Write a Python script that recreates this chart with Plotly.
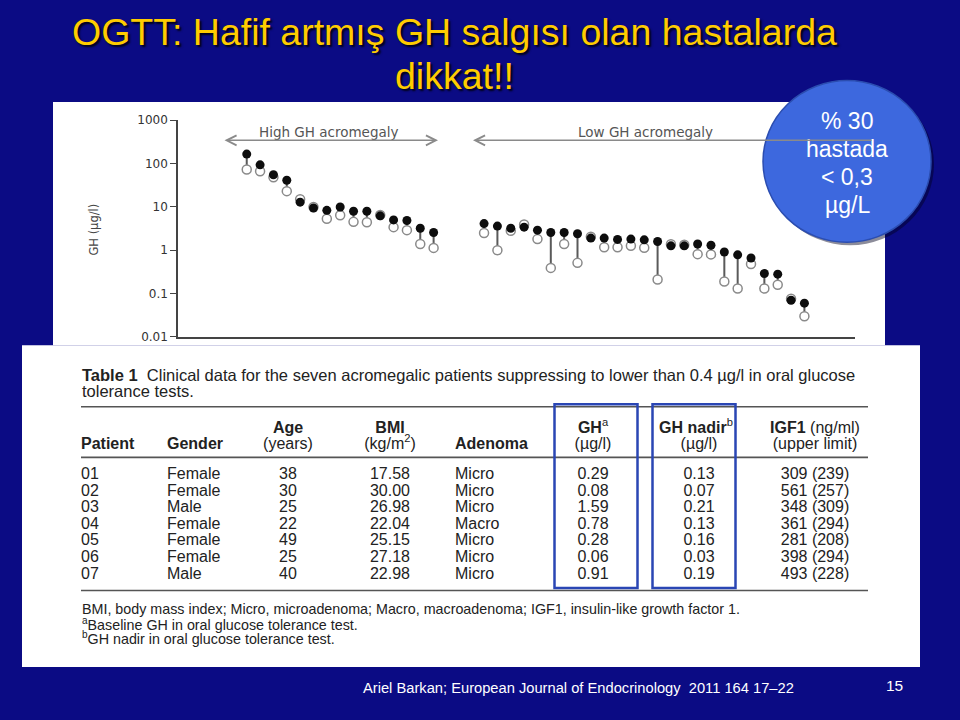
import plotly.graph_objects as go

# ---------------- data ----------------
# High GH acromegaly: baseline GH (filled) and nadir GH in OGTT (open), µg/l
high_gh_baseline = [165, 93, 55, 41, 12.8, 9.4, 8.3, 9.9, 7.9, 7.9, 6.2, 5.0, 4.85, 3.2, 2.55]
high_gh_nadir = [73, 66, 48, 23, 15, 9.9, 5.3, 6.4, 4.5, 4.4, 6.5, 3.4, 2.9, 1.39, 1.13]
# Low GH acromegaly
low_gh_baseline = [4.1, 3.6, 3.2, 3.4, 2.9, 2.55, 2.55, 2.4, 1.9, 1.9, 1.77, 1.8, 1.73,
                   1.59, 1.26, 1.26, 1.39, 1.3, 0.91, 0.78, 0.66, 0.29, 0.28, 0.070, 0.06]
low_gh_nadir = [2.5, 1.0, 2.8, 3.9, 1.8, 0.39, 1.39, 0.51, 2.04, 1.17, 1.17, 1.26, 1.14,
                0.21, 1.37, 1.33, 0.81, 0.80, 0.19, 0.13, 0.48, 0.13, 0.16, 0.076, 0.03]
y_tick_vals = [0.01, 0.1, 1, 10, 100, 1000]
y_tick_text = ["0.01", "0.1", "1", "10", "100", "1000"]
threshold_gh = 1

# Table 1
patients = ["01", "02", "03", "04", "05", "06", "07"]
genders = ["Female", "Female", "Male", "Female", "Female", "Female", "Male"]
ages = [38, 30, 25, 22, 49, 25, 40]
bmis = [17.58, 30.00, 26.98, 22.04, 25.15, 27.18, 22.98]
adenomas = ["Micro", "Micro", "Micro", "Macro", "Micro", "Micro", "Micro"]
gh_baseline_tbl = [0.29, 0.08, 1.59, 0.78, 0.28, 0.06, 0.91]
gh_nadir_tbl = [0.13, 0.07, 0.21, 0.13, 0.16, 0.03, 0.19]
igf1 = [309, 561, 348, 361, 281, 398, 493]
igf1_upper = [239, 257, 309, 294, 208, 294, 228]

# ---------------- layout helpers ----------------
W, H = 960, 720
BG = "#0b0b84"
def px(x):
    return x / W
def py(y):
    return 1 - y / H

GAP = 2.78  # gap between the two groups (in patient slots)
x_high = [i + 1 for i in range(len(high_gh_baseline))]
x_low = [len(high_gh_baseline) + i + 1 + GAP for i in range(len(low_gh_baseline))]
xs = x_high + x_low
base = high_gh_baseline + low_gh_baseline
nadir = high_gh_nadir + low_gh_nadir

stem_x, stem_y = [], []
for x, b, n in zip(xs, base, nadir):
    stem_x += [x, x, None]
    stem_y += [b, n, None]

fig = go.Figure()
fig.add_trace(go.Scatter(x=stem_x, y=stem_y, mode="lines",
                         line=dict(color="#5a5a5a", width=2), hoverinfo="skip"))
fig.add_trace(go.Scatter(x=xs, y=nadir, mode="markers",
                         marker=dict(size=9, color="white", line=dict(color="#8a8a8a", width=1.5)),
                         hoverinfo="skip"))
fig.add_trace(go.Scatter(x=xs, y=base, mode="markers",
                         marker=dict(size=9, color="#0d0d0d"), hoverinfo="skip"))

# ---------------- table as text traces on a second pair of axes ----------------
FONT = "Arial, Liberation Sans, sans-serif"
TXT = "#222222"
TFS = 16
rows = list(range(len(patients)))
col_specs = [
    (81, "middle right", patients),
    (167, "middle right", genders),
    (288, "middle center", [str(a) for a in ages]),
    (390, "middle center", [f"{b:.2f}" for b in bmis]),
    (455, "middle right", adenomas),
    (593, "middle center", [f"{g:.2f}" for g in gh_baseline_tbl]),
    (699, "middle center", [f"{g:.2f}" for g in gh_nadir_tbl]),
    (815, "middle center", [f"{a} ({u})" for a, u in zip(igf1, igf1_upper)]),
]
for cx, pos, vals in col_specs:
    fig.add_trace(go.Scatter(x=[cx] * len(vals), y=rows, text=vals, mode="text",
                             textposition=pos, textfont=dict(family=FONT, size=TFS, color=TXT),
                             xaxis="x2", yaxis="y2", hoverinfo="skip", cliponaxis=False))

HDR1, HDR2 = -2.79, -1.81
headers = [
    (81, HDR2, "middle right", "<b>Patient</b>"),
    (167, HDR2, "middle right", "<b>Gender</b>"),
    (288, HDR1, "middle center", "<b>Age</b>"),
    (288, HDR2, "middle center", "(years)"),
    (390, HDR1, "middle center", "<b>BMI</b>"),
    (390, HDR2, "middle center", "(kg/m<sup>2</sup>)"),
    (455, HDR2, "middle right", "<b>Adenoma</b>"),
    (593, HDR1, "middle center", "<b>GH</b><sup>a</sup>"),
    (593, HDR2, "middle center", "(µg/l)"),
    (696, HDR1, "middle center", "<b>GH nadir</b><sup>b</sup>"),
    (699, HDR2, "middle center", "(µg/l)"),
    (815, HDR1, "middle center", "<b>IGF1</b> (ng/ml)"),
    (815, HDR2, "middle center", "(upper limit)"),
]
for hx, hy, pos, t in headers:
    fig.add_trace(go.Scatter(x=[hx], y=[hy], text=[t], mode="text", textposition=pos,
                             textfont=dict(family=FONT, size=TFS, color=TXT),
                             xaxis="x2", yaxis="y2", hoverinfo="skip", cliponaxis=False))

# ---------------- shapes ----------------
shapes = [
    # chart panel and table panel
    dict(type="rect", xref="paper", yref="paper", x0=px(53), x1=px(885), y0=py(345), y1=py(97),
         fillcolor="white", line=dict(width=0), layer="below"),
    dict(type="rect", xref="paper", yref="paper", x0=px(22), x1=px(920), y0=py(673), y1=py(345),
         fillcolor="white", line=dict(width=0), layer="below"),
    # table rules
    dict(type="line", xref="paper", yref="paper", x0=px(81), x1=px(868), y0=py(407.7), y1=py(407.7),
         line=dict(color="#555555", width=1.6)),
    dict(type="line", xref="paper", yref="paper", x0=px(81), x1=px(868), y0=py(459.3), y1=py(459.3),
         line=dict(color="#555555", width=1.6)),
    dict(type="line", xref="paper", yref="paper", x0=px(81), x1=px(868), y0=py(595), y1=py(595),
         line=dict(color="#555555", width=1.6)),
    # blue highlight boxes
    dict(type="rect", xref="paper", yref="paper", x0=px(554.5), x1=px(637.5), y0=py(592.5), y1=py(405),
         line=dict(color="#2a46b4", width=2.5)),
    dict(type="rect", xref="paper", yref="paper", x0=px(652.5), x1=px(735.5), y0=py(592.5), y1=py(405),
         line=dict(color="#2a46b4", width=2.5)),
    # dashed threshold line at 1 µg/l
    dict(type="line", xref="paper", yref="y", x0=px(180), x1=px(885), y0=0, y1=0,
         line=dict(color="#2f5fdc", width=3.5, dash="10px,5px")),
    # circle callout (shadow + circle)
    dict(type="circle", xref="paper", yref="paper", x0=px(766), x1=px(934), y0=py(243), y1=py(78),
         fillcolor="rgba(0,0,30,0.45)", line=dict(width=0)),
    dict(type="circle", xref="paper", yref="paper", x0=px(763), x1=px(931), y0=py(240), y1=py(75),
         fillcolor="#3d68de", line=dict(color="#2b4db0", width=1.5)),
]

# ---------------- annotations ----------------
ann = []
shadow = "2px 2px 2px rgba(0,0,0,0.85)"
ann.append(dict(text="OGTT: Hafif artmış GH salgısı olan hastalarda", x=px(454), y=py(26),
                xref="paper", yref="paper", showarrow=False, xanchor="center", yanchor="middle",
                font=dict(family=FONT, size=37.5, color="#ffcc00", shadow=shadow)))
ann.append(dict(text="dikkat!!", x=px(454), y=py(70),
                xref="paper", yref="paper", showarrow=False, xanchor="center", yanchor="middle",
                font=dict(family=FONT, size=37.5, color="#ffcc00", shadow=shadow)))
for i, t in enumerate(["% 30", "hastada", "< 0,3", "µg/L"]):
    ann.append(dict(text=t, x=px(847), y=py(116.5 + i * 28.4), xref="paper", yref="paper",
                    showarrow=False, xanchor="center", yanchor="middle",
                    font=dict(family=FONT, size=23, color="white")))
# chart labels
ann.append(dict(text="High GH acromegaly", x=px(328), y=py(127), xref="paper", yref="paper",
                showarrow=False, xanchor="center", yanchor="middle",
                font=dict(family="DejaVu Sans", size=13.5, color="#555555")))
ann.append(dict(text="Low GH acromegaly", x=px(645), y=py(127), xref="paper", yref="paper",
                showarrow=False, xanchor="center", yanchor="middle",
                font=dict(family="DejaVu Sans", size=13.5, color="#555555")))
ann.append(dict(text="", x=px(438), y=py(136), xref="paper", yref="paper", showarrow=True,
                ax=-215, ay=0, arrowside="end+start", arrowhead=5, startarrowhead=5,
                arrowsize=1.3, startarrowsize=1.3, arrowwidth=1.5, arrowcolor="#8a8a8a",
                standoff=0, startstandoff=0))
ann.append(dict(text="", x=px(473), y=py(136), xref="paper", yref="paper", showarrow=True,
                ax=400, ay=0, arrowhead=5, arrowsize=1.3, arrowwidth=1.5, arrowcolor="#8a8a8a",
                standoff=0, startstandoff=0))
ann.append(dict(text="GH (µg/l)", x=px(94), y=py(227), xref="paper", yref="paper",
                showarrow=False, textangle=-90, xanchor="center", yanchor="middle",
                font=dict(family="DejaVu Sans", size=11.5, color="#444444")))
# table caption and footnotes
ann.append(dict(text="<b>Table 1</b>  Clinical data for the seven acromegalic patients suppressing to lower than 0.4 µg/l in oral glucose",
                x=px(80), y=py(375), xref="paper", yref="paper", showarrow=False,
                xanchor="left", yanchor="middle", font=dict(family=FONT, size=16.5, color=TXT)))
ann.append(dict(text="tolerance tests.", x=px(80), y=py(391.5), xref="paper", yref="paper",
                showarrow=False, xanchor="left", yanchor="middle",
                font=dict(family=FONT, size=16.5, color=TXT)))
foot = ["BMI, body mass index; Micro, microadenoma; Macro, macroadenoma; IGF1, insulin-like growth factor 1.",
        "<sup>a</sup>Baseline GH in oral glucose tolerance test.",
        "<sup>b</sup>GH nadir in oral glucose tolerance test."]
for i, t in enumerate(foot):
    ann.append(dict(text=t, x=px(80), y=py(614 + i * 14.8), xref="paper", yref="paper",
                    showarrow=False, xanchor="left", yanchor="middle",
                    font=dict(family=FONT, size=14.3, color=TXT)))
# footer
ann.append(dict(text="Ariel Barkan; European Journal of Endocrinology  2011 164 17–22",
                x=px(361), y=py(694), xref="paper", yref="paper", showarrow=False,
                xanchor="left", yanchor="middle", font=dict(family=FONT, size=14.7, color="white")))
ann.append(dict(text="15", x=px(894), y=py(692), xref="paper", yref="paper", showarrow=False,
                xanchor="center", yanchor="middle", font=dict(family=FONT, size=15.5, color="white")))

fig.update_layout(
    width=W, height=H, margin=dict(l=0, r=0, t=0, b=0),
    paper_bgcolor=BG, plot_bgcolor="rgba(0,0,0,0)",
    showlegend=False, hovermode=False,
    shapes=shapes, annotations=ann,
    xaxis=dict(domain=[px(178), px(855)], range=[-4.15, 46.57], showline=True,
               linecolor="#444444", linewidth=1.5, showticklabels=False, ticks="",
               showgrid=False, zeroline=False, fixedrange=True),
    yaxis=dict(type="log", domain=[py(336.4), py(115.4)], range=[-2, 3],
               tickvals=y_tick_vals, ticktext=y_tick_text, ticks="outside", ticklen=6,
               tickwidth=1.2, tickcolor="#444444", showline=True, linecolor="#444444",
               linewidth=1.5, showgrid=False, zeroline=False, fixedrange=True,
               tickfont=dict(family="DejaVu Sans", size=12, color="#333333")),
    xaxis2=dict(domain=[px(22), px(920)], range=[22, 920], visible=False, anchor="y2",
                fixedrange=True),
    yaxis2=dict(domain=[py(673), py(345)], range=[11.55, -7.80], visible=False, anchor="x2",
                fixedrange=True),
)

# remove the page's default body margin so the 960x720 figure fills the window exactly
page_fix = ("document.documentElement.style.margin='0';document.body.style.margin='0';"
            "document.body.style.padding='0';document.documentElement.style.background='%s';"
            "document.body.style.background='%s';document.body.style.overflow='hidden';" % (BG, BG))
fig.write_html("out.html", post_script=page_fix, config={"displayModeBar": False})
